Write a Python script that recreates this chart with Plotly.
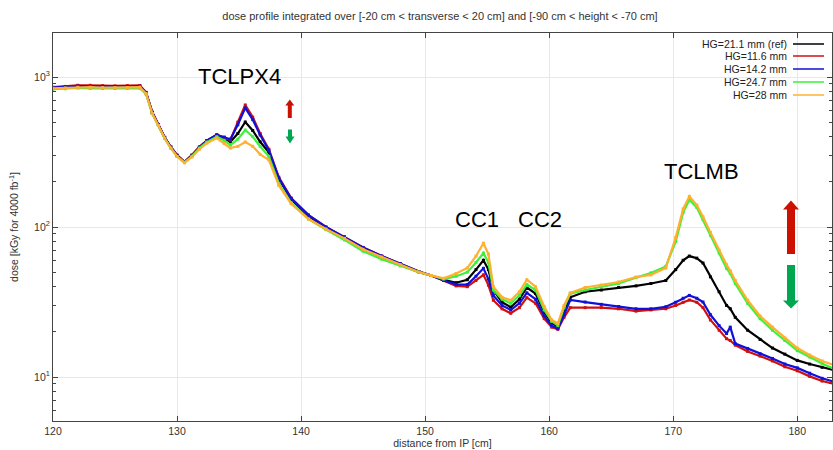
import plotly.graph_objects as go

# ---------------- data ----------------
distance_cm = [120, 121, 122, 123, 124, 125, 126, 127, 127.5, 128, 128.5, 129, 129.5, 130,
               130.6, 131.2, 131.8, 132.4, 133.2, 133.8, 134.3, 134.9, 135.5, 136.1, 136.7,
               137.4, 138.2, 139.2, 140.6, 142, 143.5, 145, 146.5, 148, 149.5, 150.5, 151.5,
               152.5, 153.4, 154.1, 154.7, 155.1, 155.5, 156.2, 156.9, 157.6, 158.2, 158.9,
               159.6, 160.2, 160.7, 161.2, 161.7, 162.9, 164.2, 165.6, 167, 168.2, 169.4,
               170.2, 170.8, 171.3, 171.9, 172.4, 173.0, 173.7, 174.3, 174.6, 175.0, 176.0,
               177.0, 178.0, 179.0, 180.0, 181.0, 182.0, 183.0]

dose_hg21_1 = [850, 860, 870, 865, 862, 862, 865, 868, 785, 580, 480, 395, 340, 300,
               271, 300, 340, 375, 410, 390, 369, 420, 501, 440, 370,
               315, 210, 153, 118, 99, 85, 72, 63, 56, 50, 47.5, 44.5,
               42.5, 44.5, 52, 60, 52, 38, 31.5, 29.2, 33, 39.5, 36,
               27, 23, 21.5, 27, 34, 37, 38, 39.5, 40.5, 42, 44,
               52, 60, 64, 62, 57.5, 46.5, 37, 30, 28.5, 25, 20.5,
               17.8, 15.6, 14.2, 12.9, 12.2, 11.6, 11.1]

dose_hg11_6 = [855, 865, 880, 880, 875, 872, 875, 878, 790, 585, 482, 397, 342, 302,
               272, 302, 342, 377, 412, 395, 380, 500, 651, 540, 420,
               330, 215, 156, 120, 100, 86, 73, 64, 57, 50.5, 47.5, 44,
               40.5, 40, 44, 48, 41, 32.5, 28.5, 26.6, 29, 33.8, 31,
               24.5, 21.5, 20.8, 25, 29, 29, 29, 28.5, 27.5, 28, 28.5,
               30, 31.5, 32.6, 31.5, 29, 24, 20.5, 18, 17.5, 16.3, 14.8,
               13.8, 12.8, 11.7, 11.0, 10.1, 9.4, 9.0]

dose_hg14_2 = [850, 860, 870, 865, 862, 862, 865, 868, 785, 580, 480, 395, 340, 300,
               271, 300, 340, 376, 411, 398, 385, 480, 622, 520, 410,
               325, 212, 155, 120, 100, 86, 73, 64, 57, 50.5, 47.5, 44,
               41.5, 41.3, 47, 53, 45, 35, 30, 28, 31, 36.4, 33,
               25.5, 22, 21, 26, 32.6, 31.6, 30.5, 29.5, 28.5, 28.5, 29.4,
               31.5, 33.5, 35, 33.5, 31.6, 26, 22, 19.5, 21.5, 16.7, 15.5,
               14.3, 13.3, 12.2, 11.5, 10.6, 9.8, 9.3]

dose_hg24_7 = [830, 835, 845, 840, 838, 838, 840, 842, 770, 570, 475, 390, 336, 296,
               270, 296, 336, 368, 400, 378, 352, 385, 443, 400, 345,
               295, 195, 145, 113, 96, 82, 69, 61, 55, 50, 47.5, 45,
               47, 50, 58, 67, 58, 38, 33, 31, 35, 41.3, 38,
               28, 23.5, 22, 29, 36, 38, 40, 42, 46, 49.4, 54.6,
               80, 125, 152, 135, 112, 88, 67, 53, 49, 42, 31,
               24.5, 20.5, 17.5, 15.0, 13.6, 12.3, 11.3]

dose_hg28 = [840, 845, 855, 855, 850, 850, 852, 856, 775, 570, 474, 390, 335, 295,
             268, 293, 330, 362, 392, 360, 336, 345, 369, 345, 305,
             280, 190, 143, 113, 97, 84, 71, 63, 56, 50, 47.5, 45.5,
             49, 53.3, 64, 78, 66, 40, 34, 32.5, 37, 44.5, 40,
             29.5, 24, 22.8, 30, 36.4, 39.5, 41, 43, 46.4, 48, 53.3,
             85, 132, 160, 140, 117, 92, 70, 56, 51, 44, 32.5,
             25.5, 21.5, 18.2, 15.6, 14.0, 12.8, 12.0]

series_names = ["HG=21.1 mm (ref)", "HG=11.6 mm", "HG=14.2 mm", "HG=24.7 mm", "HG=28 mm"]
series_values = [dose_hg21_1, dose_hg11_6, dose_hg14_2, dose_hg24_7, dose_hg28]
series_colors = ["#000000", "#d01010", "#1010d8", "#3cf03c", "#ffb030"]

x_tick_values = [120, 130, 140, 150, 160, 170, 180]
y_tick_values = [10, 100, 1000]
y_tick_labels = ["10<sup>1</sup>", "10<sup>2</sup>", "10<sup>3</sup>"]
y_minor_values = [6, 7, 8, 9, 20, 30, 40, 50, 60, 70, 80, 90,
                  200, 300, 400, 500, 600, 700, 800, 900, 2000]

peak_labels = ["TCLPX4", "CC1", "CC2", "TCLMB"]

# ---------------- layout geometry (pixels) ----------------
W, H = 833, 450
L, R, T, B = 53, 1, 33, 29
PW, PH = W - L - R, H - T - B
FONT = "Liberation Sans, Arial, sans-serif"


def px(xp):
    return (xp - L) / PW


def py(yp):
    return (H - B - yp) / PH


fig = go.Figure()
for name, vals, col in zip(series_names, series_values, series_colors):
    fig.add_trace(go.Scatter(x=distance_cm, y=vals, mode="lines+markers", name=name,
                             line=dict(color=col, width=2.2),
                             marker=dict(color=col, size=3, symbol="square"),
                             showlegend=False))

annotations = []
# legend built gnuplot-style (text right aligned, sample on the right)
legend_y = [44, 56, 69, 82, 95]
shapes = []
for name, col, yy in zip(series_names, series_colors, legend_y):
    annotations.append(dict(text=name, x=px(789), y=py(yy), xref="paper", yref="paper",
                            xanchor="right", yanchor="middle", showarrow=False,
                            font=dict(family=FONT, size=10.5, color="#222")))
    shapes.append(dict(type="line", xref="paper", yref="paper", x0=px(793), x1=px(824),
                       y0=py(yy), y1=py(yy), line=dict(color=col, width=1.5)))

# peak labels
label_pos = [(239, 76), (477, 220), (540, 220), (701, 172)]
for txt, (xx, yy) in zip(peak_labels, label_pos):
    annotations.append(dict(text=txt, x=px(xx), y=py(yy), xref="paper", yref="paper",
                            xanchor="center", yanchor="middle", showarrow=False,
                            font=dict(family=FONT, size=22, color="#000")))


def arrow_path(cx, y_tip, y_base, y_end, shaft_w, head_w):
    # block arrow; tip at y_tip, head base at y_base, shaft end at y_end
    pts = [(cx, y_tip), (cx + head_w / 2, y_base), (cx + shaft_w / 2, y_base),
           (cx + shaft_w / 2, y_end), (cx - shaft_w / 2, y_end), (cx - shaft_w / 2, y_base),
           (cx - head_w / 2, y_base)]
    return "M " + " L ".join(f"{px(a):.5f},{py(b):.5f}" for a, b in pts) + " Z"


RED_A, GREEN_A = "#cc1100", "#00a650"
arrows = [
    (289.8, 99.5, 105.5, 118, 4, 9, RED_A),
    (290.0, 143.5, 136.5, 129.5, 4, 9, GREEN_A),
    (791.0, 200.5, 209.5, 254, 8, 16, RED_A),
    (791.0, 308.5, 300.5, 265, 8, 16, GREEN_A),
]
for cx, yt, yb, ye, sw, hw, col in arrows:
    shapes.append(dict(type="path", xref="paper", yref="paper",
                       path=arrow_path(cx, yt, yb, ye, sw, hw),
                       fillcolor=col, line=dict(width=0)))

axis_common = dict(showline=True, linecolor="#444", linewidth=1, mirror="ticks",
                   ticks="inside", ticklen=5, tickcolor="#444",
                   showgrid=True, gridcolor="#e8e8e8", gridwidth=1, zeroline=False,
                   tickfont=dict(family=FONT, size=10.5, color="#333"))

fig.update_layout(
    width=W, height=H,
    margin=dict(l=L, r=R, t=T, b=B, pad=0),
    paper_bgcolor="white", plot_bgcolor="white",
    title=dict(text="dose profile integrated over [-20 cm &lt; transverse &lt; 20 cm] and [-90 cm &lt; height &lt; -70 cm]",
               x=440 / W, xref="container", xanchor="center",
               y=1 - 16 / H, yref="container", yanchor="middle",
               font=dict(family=FONT, size=11, color="#333")),
    xaxis=dict(range=[120, 182.8], tickvals=x_tick_values,
               title=dict(text="distance from IP [cm]", standoff=3,
                          font=dict(family=FONT, size=10.5, color="#333")),
               **axis_common),
    yaxis=dict(type="log", range=[0.7067, 3.2933], tickvals=y_tick_values, ticktext=y_tick_labels,
               minor=dict(tickvals=y_minor_values, ticks="inside", ticklen=3, tickcolor="#444",
                          showgrid=False),
               title=dict(text="dose [kGy for 4000 fb<sup>-1</sup>]", standoff=13,
                          font=dict(family=FONT, size=10.5, color="#333")),
               **axis_common),
    annotations=annotations,
    shapes=shapes,
    showlegend=False,
)

fig.write_html("out.html")
